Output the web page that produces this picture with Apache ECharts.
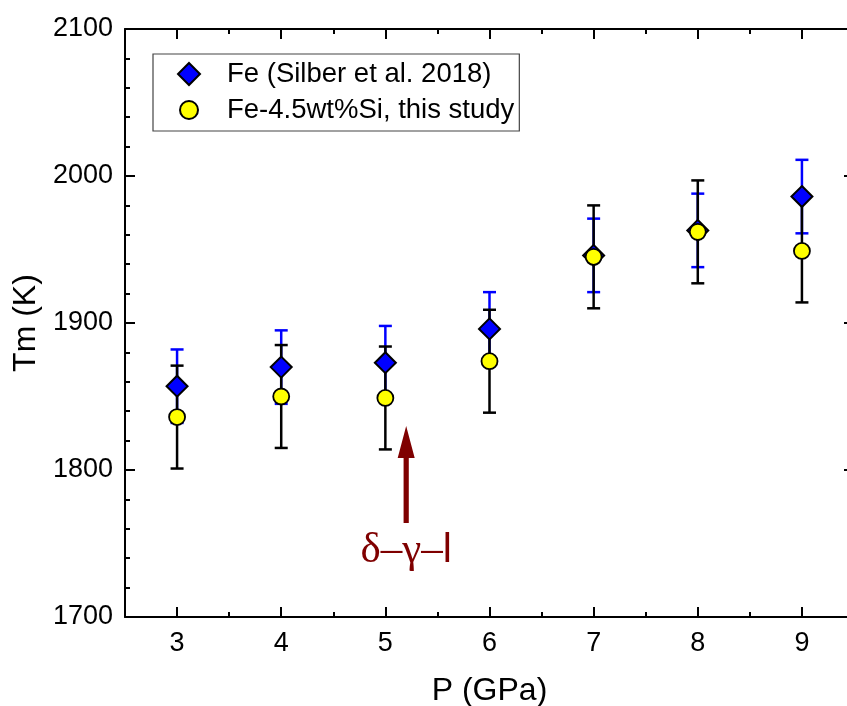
<!DOCTYPE html>
<html>
<head>
<meta charset="utf-8">
<script src="https://cdn.jsdelivr.net/npm/echarts@6/dist/echarts.min.js"></script>
<style>
html,body{margin:0;padding:0;background:#fff;}
#chart{width:847px;height:706px;}
</style>
</head>
<body>
<div id="chart"></div>
<script>
// ---- data ----
const pressure = [3, 4, 5, 6, 7, 8, 9];
const feTm = [1857, 1870, 1873, 1896, 1946, 1963, 1986];
const feErr = [25, 25, 25, 25, 25, 25, 25];
const fesiTm = [1836, 1850, 1849, 1874, 1945, 1962, 1949];
const fesiErr = [35, 35, 35, 35, 35, 35, 35];
const xMajorTicks = [3, 4, 5, 6, 7, 8, 9];
const xMinorTicks = [3.5, 4.5, 5.5, 6.5, 7.5, 8.5];
const arrowX = [5.2];
const arrowFrom = [1764];
const arrowTo = [1830];
const annotParts = ['δ–γ–', 'l'];
const annotY = [1745];
const seriesNames = ['Fe (Silber et al. 2018)', 'Fe-4.5wt%Si, this study'];

const FONT = 'Liberation Sans';
const chart = echarts.init(document.getElementById('chart'));

function errRender(color) {
  return function (params, api) {
    const x = api.value(0), lo = api.value(1), hi = api.value(2);
    const a = api.coord([x, lo]), b = api.coord([x, hi]);
    const s = { stroke: color, lineWidth: 2.5 };
    const c = 6.5;
    return {
      type: 'group',
      children: [
        { type: 'line', shape: { x1: a[0], y1: a[1], x2: b[0], y2: b[1] }, style: s },
        { type: 'line', shape: { x1: a[0] - c, y1: a[1], x2: a[0] + c, y2: a[1] }, style: s },
        { type: 'line', shape: { x1: b[0] - c, y1: b[1], x2: b[0] + c, y2: b[1] }, style: s }
      ]
    };
  };
}

const axisLineStyle = { color: '#000', width: 2 };
function xAx(pos, ticks, len, showLine, showLabel, extra) {
  return Object.assign({
    type: 'value', gridIndex: 0, min: 2.5, max: 9.5, position: pos,
    axisLine: { show: showLine, lineStyle: axisLineStyle },
    axisTick: { show: true, inside: true, length: len, customValues: ticks, lineStyle: { color: '#000', width: 2 } },
    axisLabel: { show: showLabel, customValues: ticks, fontFamily: FONT, fontSize: 27, color: '#000', margin: 13 },
    splitLine: { show: false }
  }, extra || {});
}
function yAx(pos, showLabel, extra) {
  return Object.assign({
    type: 'value', gridIndex: 0, min: 1700, max: 2100, interval: 100, position: pos,
    axisLine: { show: true, lineStyle: axisLineStyle },
    axisTick: { show: true, inside: true, length: 10, lineStyle: { color: '#000', width: 2 } },
    minorTick: { show: true, splitNumber: 5, length: 5, lineStyle: { color: '#000', width: 2 } },
    axisLabel: { show: showLabel, fontFamily: FONT, fontSize: 27, color: '#000', margin: 12,
      formatter: function (v) { return String(v); } },
    splitLine: { show: false }
  }, extra || {});
}

const option = {
  animation: false,
  backgroundColor: '#fff',
  grid: { left: 125, top: 29, right: -7, bottom: 89, containLabel: false, outerBoundsMode: 'none' },
  xAxis: [
    xAx('bottom', xMajorTicks, 10, true, true, {
      name: 'P (GPa)', nameLocation: 'middle', nameGap: 58,
      nameTextStyle: { fontFamily: FONT, fontSize: 32, color: '#000' }
    }),
    xAx('bottom', xMinorTicks, 5, false, false),
    xAx('top', xMajorTicks, 10, true, false),
    xAx('top', xMinorTicks, 5, false, false)
  ],
  yAxis: [
    yAx('left', true, {
      name: 'Tm (K)', nameLocation: 'middle', nameGap: 76, nameRotate: 90,
      nameTextStyle: { fontFamily: FONT, fontSize: 32, color: '#000' }
    }),
    yAx('right', false)
  ],
  legend: {
    orient: 'vertical', left: 153, top: 54,
    padding: [6, 5, 7, 24],
    borderColor: '#444', borderWidth: 1.2,
    itemWidth: 22, itemHeight: 22, itemGap: 8,
    data: [
      { name: seriesNames[0], icon: 'diamond' },
      { name: seriesNames[1], icon: 'path://M0,0M22,22M11,2A9,9,0,1,1,11,20A9,9,0,1,1,11,2Z' }
    ],
    textStyle: { fontFamily: FONT, fontSize: 27.5, color: '#000', lineHeight: 22, padding: [0, 0, 0, 22] }
  },
  series: [
    {
      type: 'custom', name: 'feErr', xAxisIndex: 0, yAxisIndex: 0,
      renderItem: errRender('#0000ff'),
      encode: { x: 0, y: [1, 2] },
      data: pressure.map((p, i) => [p, feTm[i] - feErr[i], feTm[i] + feErr[i]]),
      silent: true
    },
    {
      type: 'scatter', name: seriesNames[0], xAxisIndex: 0, yAxisIndex: 0,
      symbol: 'diamond', symbolSize: 21,
      itemStyle: { color: '#0000ff', borderColor: '#000', borderWidth: 2, opacity: 1 },
      data: pressure.map((p, i) => [p, feTm[i]])
    },
    {
      type: 'custom', name: 'fesiErr', xAxisIndex: 0, yAxisIndex: 0,
      renderItem: errRender('#000000'),
      encode: { x: 0, y: [1, 2] },
      data: pressure.map((p, i) => [p, fesiTm[i] - fesiErr[i], fesiTm[i] + fesiErr[i]]),
      silent: true
    },
    {
      type: 'scatter', name: seriesNames[1], xAxisIndex: 0, yAxisIndex: 0,
      symbol: 'circle', symbolSize: 16,
      itemStyle: { color: '#ffff00', borderColor: '#000', borderWidth: 1.8, opacity: 1 },
      data: pressure.map((p, i) => [p, fesiTm[i]])
    },
    {
      type: 'custom', name: 'arrow', xAxisIndex: 0, yAxisIndex: 0, silent: true,
      encode: { x: 0, y: [1, 2] },
      data: arrowX.map((x, i) => [x, arrowFrom[i], arrowTo[i]]),
      renderItem: function (params, api) {
        const a = api.coord([api.value(0), api.value(1)]);
        const b = api.coord([api.value(0), api.value(2)]);
        const sh = 2.6, hh = 8.5, hl = 32;
        return {
          type: 'polygon',
          shape: { points: [
            [a[0] - sh, a[1]], [a[0] - sh, b[1] + hl], [a[0] - hh, b[1] + hl],
            [a[0], b[1]], [a[0] + hh, b[1] + hl], [a[0] + sh, b[1] + hl], [a[0] + sh, a[1]]
          ] },
          style: { fill: '#7f0000' }
        };
      }
    },
    {
      type: 'custom', name: 'annot', xAxisIndex: 0, yAxisIndex: 0, silent: true,
      encode: { x: 0, y: 1 },
      data: arrowX.map((x, i) => [x, annotY[i]]),
      renderItem: function (params, api) {
        const p = api.coord([api.value(0), api.value(1)]);
        return {
          type: 'text',
          x: p[0], y: p[1],
          style: {
            text: '{a|' + annotParts[0] + '}{b|' + annotParts[1] + '}',
            rich: {
              a: { fill: '#7f0000', fontFamily: 'Liberation Serif', fontSize: 43 },
              b: { fill: '#7f0000', fontFamily: 'Liberation Sans', fontSize: 41 }
            },
            align: 'center', verticalAlign: 'middle'
          }
        };
      }
    }
  ]
};
chart.setOption(option);
</script>
</body>
</html>
